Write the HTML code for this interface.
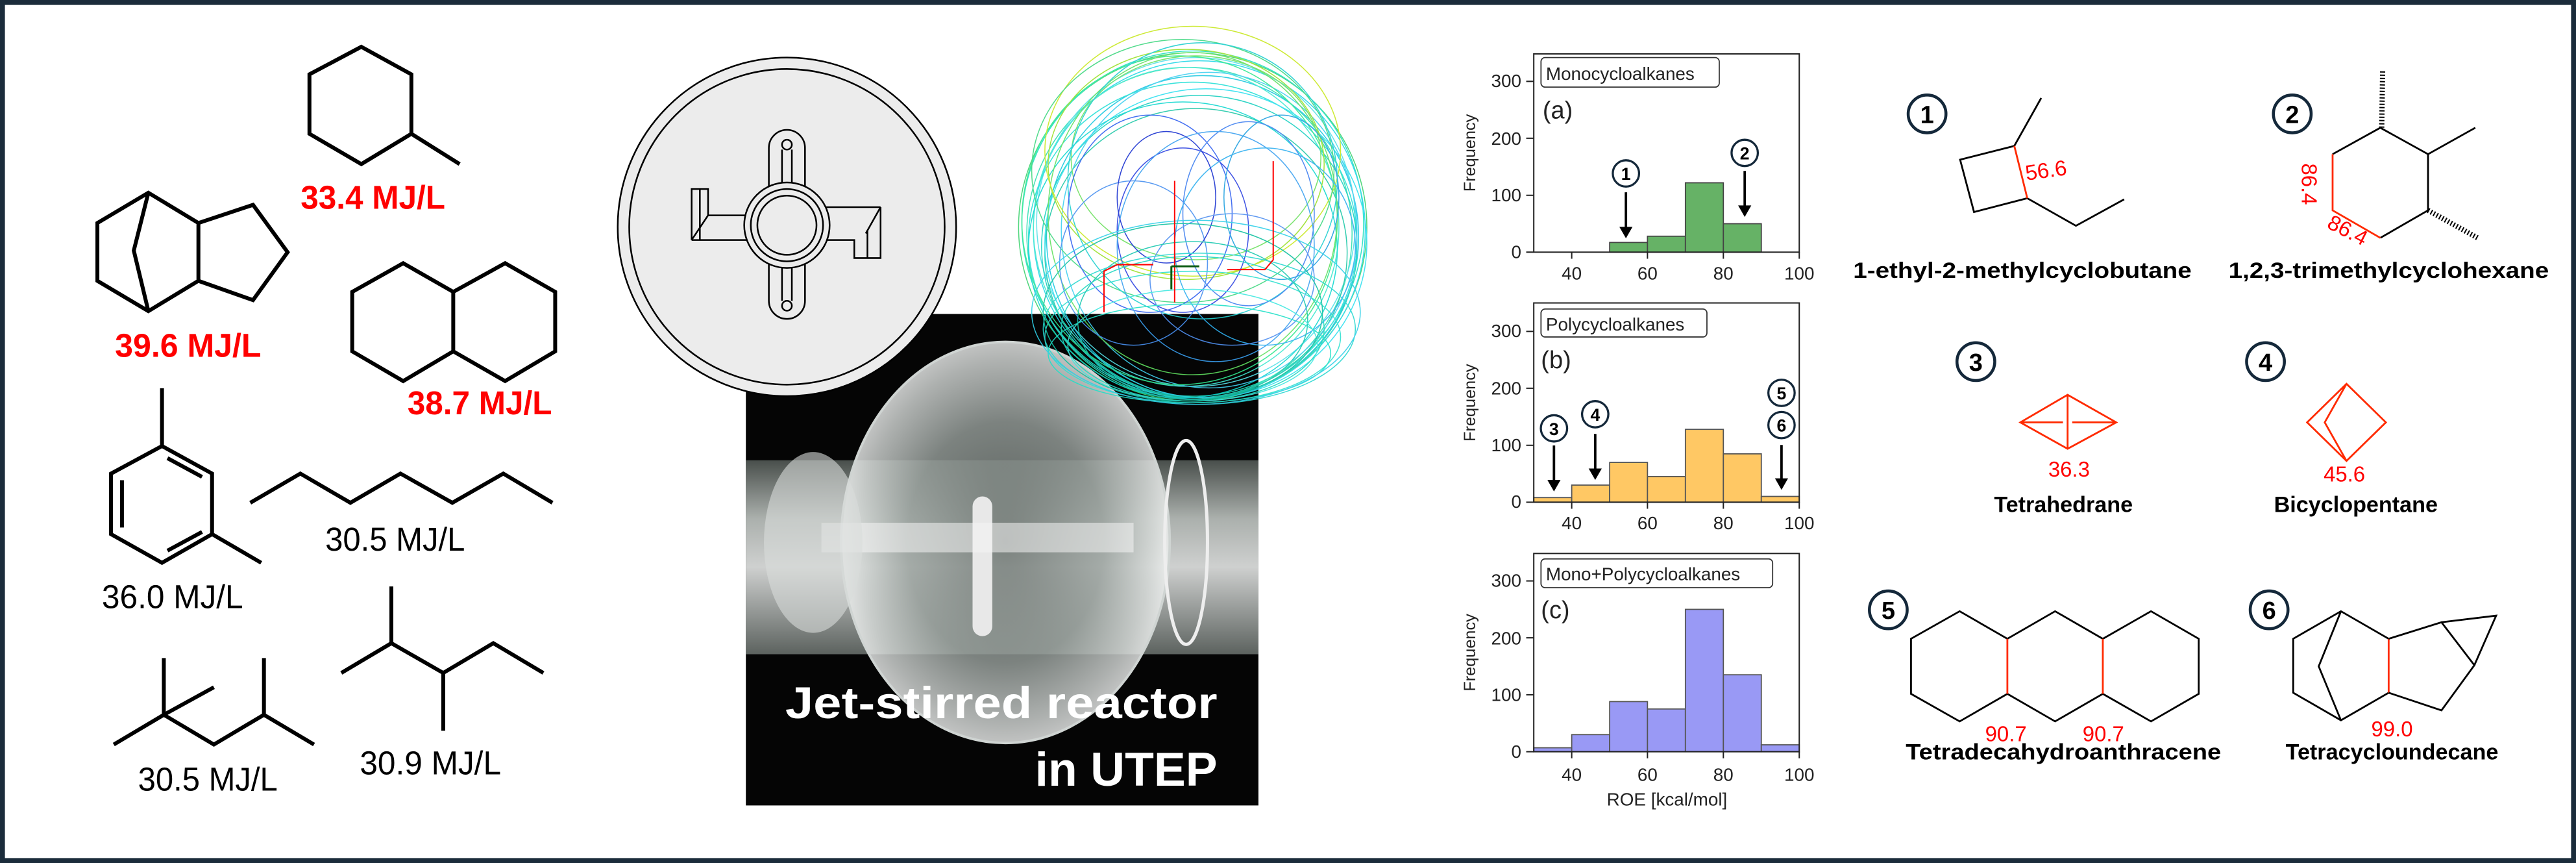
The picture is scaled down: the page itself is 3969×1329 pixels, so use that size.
<!DOCTYPE html>
<html><head><meta charset="utf-8"><style>
html,body{margin:0;padding:0;background:#fff}
svg{display:block}
text{font-family:"Liberation Sans",sans-serif}
</style></head><body>
<svg width="3969" height="1329" viewBox="0 0 1568 525" preserveAspectRatio="none" xmlns="http://www.w3.org/2000/svg">
<defs>
<radialGradient id="bulb" cx="0.5" cy="0.5" r="0.5">
<stop offset="0" stop-color="#6a726e"/><stop offset="0.6" stop-color="#9aa29e"/><stop offset="0.9" stop-color="#d8dcda"/><stop offset="1" stop-color="#f0f2f1"/>
</radialGradient>
<linearGradient id="tube" x1="0" y1="0" x2="0" y2="1">
<stop offset="0" stop-color="#555c58"/><stop offset="0.3" stop-color="#c8ceca"/><stop offset="0.55" stop-color="#f2f4f3"/><stop offset="1" stop-color="#6c736f"/>
</linearGradient>
</defs>
<rect x="0" y="0" width="1568" height="525" fill="#fff"/>
<rect x="1.5" y="1.5" width="1565" height="522" fill="none" stroke="#1b2c3b" stroke-width="3"/>

<!-- LEFT MOLECULES -->
<g transform="scale(0.554,0.335)" fill="none" stroke="#000" stroke-width="6">
<polygon vector-effect="non-scaling-stroke" points="397,85 452,135 452,243 397,298 340,243 340,135"/>
<line vector-effect="non-scaling-stroke" x1="452" y1="243" x2="505" y2="298"/>
<polygon vector-effect="non-scaling-stroke" points="163,350 107,405 107,510 163,565 218,510 218,405"/>
<polyline vector-effect="non-scaling-stroke" points="163,350 147,455 163,565"/>
<polyline vector-effect="non-scaling-stroke" points="218,405 278,372 316,458 278,545 218,510"/>
<polygon vector-effect="non-scaling-stroke" points="443,478 498,530 555,478 610,530 610,638 555,692 498,638 443,692 387,638 387,530"/>
<line vector-effect="non-scaling-stroke" x1="498" y1="530" x2="498" y2="638"/>
<line vector-effect="non-scaling-stroke" x1="178" y1="705" x2="178" y2="810"/>
<polygon vector-effect="non-scaling-stroke" points="178,810 233,860 233,970 178,1022 122,970 122,860"/>
<line vector-effect="non-scaling-stroke" x1="233" y1="970" x2="287" y2="1022"/>
<line vector-effect="non-scaling-stroke" x1="134" y1="872" x2="134" y2="958"/>
<line vector-effect="non-scaling-stroke" x1="184" y1="832" x2="222" y2="866"/>
<line vector-effect="non-scaling-stroke" x1="184" y1="1000" x2="222" y2="966"/>
<polyline vector-effect="non-scaling-stroke" points="275,913 330,860 385,913 440,860 497,913 553,860 607,913"/>
<polyline vector-effect="non-scaling-stroke" points="125,1352 180,1298 235,1352 290,1298 345,1352"/>
<line vector-effect="non-scaling-stroke" x1="180" y1="1298" x2="180" y2="1195"/>
<line vector-effect="non-scaling-stroke" x1="180" y1="1298" x2="235" y2="1248"/>
<line vector-effect="non-scaling-stroke" x1="290" y1="1298" x2="290" y2="1195"/>
<line vector-effect="non-scaling-stroke" x1="430" y1="1065" x2="430" y2="1168"/>
<polyline vector-effect="non-scaling-stroke" points="375,1222 430,1168 487,1222 542,1168 597,1222"/>
<line vector-effect="non-scaling-stroke" x1="487" y1="1222" x2="487" y2="1327"/>
</g>
<g font-size="20">
<text x="183" y="127" font-weight="bold" fill="#f00" textLength="88" lengthAdjust="spacingAndGlyphs">33.4 MJ/L</text>
<text x="70" y="217" font-weight="bold" fill="#f00" textLength="89" lengthAdjust="spacingAndGlyphs">39.6 MJ/L</text>
<text x="248" y="252" font-weight="bold" fill="#f00" textLength="88" lengthAdjust="spacingAndGlyphs">38.7 MJ/L</text>
<text x="62" y="370" fill="#000" textLength="86" lengthAdjust="spacingAndGlyphs">36.0 MJ/L</text>
<text x="198" y="335" fill="#000" textLength="85" lengthAdjust="spacingAndGlyphs">30.5 MJ/L</text>
<text x="84" y="481" fill="#000" textLength="85" lengthAdjust="spacingAndGlyphs">30.5 MJ/L</text>
<text x="219" y="471" fill="#000" textLength="86" lengthAdjust="spacingAndGlyphs">30.9 MJ/L</text>
</g>

<!-- PHOTO -->
<rect x="454" y="191" width="312" height="299" fill="#050505"/>
<rect x="454" y="280" width="312" height="118" fill="url(#tube)" opacity="0.85"/>
<ellipse cx="612" cy="330" rx="100" ry="122" fill="url(#bulb)" opacity="0.8"/>
<ellipse cx="612" cy="330" rx="100" ry="122" fill="none" stroke="#cfd4d2" stroke-width="1.5"/>
<ellipse cx="722" cy="330" rx="13" ry="62" fill="none" stroke="#eee" stroke-width="2"/>
<rect x="592" y="302" width="12" height="85" rx="6" fill="#e8e8e8"/>
<rect x="500" y="318" width="190" height="18" fill="#f4f4f4" opacity="0.55"/>
<ellipse cx="495" cy="330" rx="30" ry="55" fill="#d8dcda" opacity="0.6"/>
<text x="741" y="437" font-size="27" font-weight="bold" fill="#fff" text-anchor="end" textLength="263" lengthAdjust="spacingAndGlyphs">Jet-stirred reactor</text>
<text x="741" y="478" font-size="29" font-weight="bold" fill="#fff" text-anchor="end" textLength="111" lengthAdjust="spacingAndGlyphs">in UTEP</text>

<!-- DISK -->
<circle cx="479" cy="138" r="103" fill="#ececec" stroke="#000" stroke-width="1"/>
<circle cx="479" cy="138" r="96" fill="none" stroke="#000" stroke-width="1"/>
<g fill="none" stroke="#000" stroke-width="1">
<rect x="468" y="79" width="22" height="115" rx="11"/>
<circle cx="479" cy="88" r="3"/><circle cx="479" cy="186" r="3"/>
<line x1="476" y1="91" x2="476" y2="118"/><line x1="482" y1="91" x2="482" y2="118"/>
<line x1="476" y1="158" x2="476" y2="183"/><line x1="482" y1="158" x2="482" y2="183"/>
<polyline points="421,146 421,115 431,115 431,131 460,131" />
<polyline points="421,146 460,146"/><line x1="421" y1="146" x2="431" y2="131"/>
<line x1="426" y1="115" x2="426" y2="146"/>
<polyline points="536,126 536,157 520,157 520,146 501,146"/>
<polyline points="536,126 501,126"/><line x1="536" y1="126" x2="527" y2="142"/>
<line x1="528" y1="140" x2="528" y2="157"/>
<circle cx="479" cy="137" r="26" fill="#ececec"/>
<circle cx="479" cy="137" r="22"/>
<circle cx="479" cy="137" r="18"/>
</g>

<!-- STREAMLINES -->
<g fill="none" stroke-width="0.6" opacity="0.9">
<ellipse cx="726" cy="138" rx="106" ry="106" stroke="#3cd26e"/>
<ellipse cx="726" cy="136" rx="104" ry="105" stroke="#1fe0c0"/>
<ellipse cx="730" cy="140" rx="101" ry="103" stroke="#22d8e8"/>
<ellipse cx="724" cy="142" rx="99" ry="101" stroke="#2fe0b0"/>
<ellipse cx="728" cy="135" rx="97" ry="100" stroke="#55e0e8"/>
<ellipse cx="732" cy="144" rx="95" ry="98" stroke="#1ac8e0"/>
<ellipse cx="722" cy="138" rx="93" ry="97" stroke="#40e8d0"/>
<ellipse cx="726" cy="146" rx="100" ry="96" stroke="#28e0d8"/>
<ellipse cx="730" cy="150" rx="96" ry="92" stroke="#18d0c0"/>
<ellipse cx="728" cy="154" rx="92" ry="88" stroke="#20c8a8"/>
<ellipse cx="734" cy="148" rx="98" ry="94" stroke="#30e0f0"/>
<ellipse cx="720" cy="152" rx="94" ry="90" stroke="#10d8d0"/>
<ellipse cx="736" cy="140" rx="90" ry="96" stroke="#40d0f0"/>
<ellipse cx="718" cy="134" rx="96" ry="100" stroke="#30e890"/>
<ellipse cx="726" cy="130" rx="88" ry="98" stroke="#60e060"/>
<ellipse cx="722" cy="100" rx="84" ry="70" stroke="#9be02a"/>
<ellipse cx="726" cy="92" rx="90" ry="76" stroke="#c8e820"/>
<ellipse cx="728" cy="96" rx="76" ry="62" stroke="#6de060"/>
<ellipse cx="720" cy="104" rx="92" ry="80" stroke="#40d880"/>
<ellipse cx="732" cy="110" rx="82" ry="84" stroke="#20d0d0"/>
<ellipse cx="700" cy="130" rx="50" ry="60" stroke="#3060f0"/>
<ellipse cx="720" cy="140" rx="40" ry="50" stroke="#2a40e0"/>
<ellipse cx="760" cy="130" rx="40" ry="56" stroke="#4080f0"/>
<ellipse cx="740" cy="150" rx="60" ry="70" stroke="#3aa0f0"/>
<ellipse cx="770" cy="150" rx="55" ry="60" stroke="#30b0f0"/>
<ellipse cx="690" cy="160" rx="45" ry="50" stroke="#4890f0"/>
<ellipse cx="710" cy="120" rx="30" ry="40" stroke="#1830d0"/>
<ellipse cx="750" cy="170" rx="50" ry="40" stroke="#5090f0"/>
<ellipse cx="780" cy="120" rx="35" ry="50" stroke="#20a0e0"/>
<ellipse cx="726" cy="200" rx="80" ry="44" stroke="#20d8c0"/>
<ellipse cx="726" cy="205" rx="90" ry="40" stroke="#30e0d0"/>
<ellipse cx="726" cy="195" rx="70" ry="48" stroke="#18c8b0"/>
<ellipse cx="726" cy="210" rx="76" ry="34" stroke="#40e8e0"/>
<ellipse cx="720" cy="190" rx="85" ry="54" stroke="#10c0a0"/>
<ellipse cx="730" cy="200" rx="95" ry="46" stroke="#28d8d0"/>
<ellipse cx="724" cy="215" rx="86" ry="30" stroke="#20e0c8"/>
<ellipse cx="728" cy="190" rx="100" ry="56" stroke="#30d0e8"/>
</g>
<g stroke="#f00" stroke-width="0.8" fill="none">
<polyline points="672,190 672,165 680,161 702,161"/>
<polyline points="747,164 770,164 775,158 775,98"/>
<line x1="715" y1="110" x2="715" y2="184"/>
</g>
<g stroke="#0a5a10" stroke-width="1.2"><line x1="713" y1="162" x2="730" y2="162"/><line x1="713" y1="162" x2="713" y2="176"/></g>

<!-- HISTOGRAMS -->
<g font-size="11" fill="#222">
<g stroke="#444" stroke-width="0.7" fill="#66b266">
<rect x="979.8" y="147.5" width="23" height="5.9"/>
<rect x="1002.8" y="143.7" width="23.1" height="9.7"/>
<rect x="1025.9" y="111.2" width="23.1" height="42.2"/>
<rect x="1049" y="136.1" width="23.1" height="17.3"/>
</g>
<g stroke="#555" stroke-width="0.7" fill="#ffc864">
<rect x="933.6" y="302.7" width="23.1" height="2.8"/>
<rect x="956.7" y="295.1" width="23.1" height="10.4"/>
<rect x="979.8" y="281.3" width="23" height="24.2"/>
<rect x="1002.8" y="289.9" width="23.1" height="15.6"/>
<rect x="1025.9" y="261.2" width="23.1" height="44.3"/>
<rect x="1049" y="276.1" width="23.1" height="29.4"/>
<rect x="1072.1" y="302" width="23.1" height="3.5"/>
</g>
<g stroke="#555" stroke-width="0.7" fill="#9999f5">
<rect x="933.6" y="454.9" width="23.1" height="2.4"/>
<rect x="956.7" y="446.9" width="23.1" height="10.4"/>
<rect x="979.8" y="426.8" width="23" height="30.5"/>
<rect x="1002.8" y="431.3" width="23.1" height="26"/>
<rect x="1025.9" y="370.7" width="23.1" height="86.6"/>
<rect x="1049" y="410.5" width="23.1" height="46.8"/>
<rect x="1072.1" y="453.1" width="23.1" height="4.2"/>
</g>
<g fill="none" stroke="#222" stroke-width="0.8">
<rect x="933.6" y="32.8" width="161.6" height="120.6"/>
<rect x="933.6" y="184.3" width="161.6" height="121.2"/>
<rect x="933.6" y="336.7" width="161.6" height="120.6"/>
<path d="M929,153.4h4.6M929,118.8h4.6M929,84.1h4.6M929,49.5h4.6 M929,305.5h4.6M929,270.9h4.6M929,236.2h4.6M929,201.6h4.6 M929,457.3h4.6M929,422.7h4.6M929,388h4.6M929,353.4h4.6"/>
<path d="M956.7,153.4v4M1002.8,153.4v4M1049,153.4v4M1095.2,153.4v4 M956.7,305.5v4M1002.8,305.5v4M1049,305.5v4M1095.2,305.5v4 M956.7,457.3v4M1002.8,457.3v4M1049,457.3v4M1095.2,457.3v4"/>
</g>
<g text-anchor="end">
<text x="926" y="157">0</text><text x="926" y="122.5">100</text><text x="926" y="88">200</text><text x="926" y="53">300</text>
<text x="926" y="309">0</text><text x="926" y="274.5">100</text><text x="926" y="240">200</text><text x="926" y="205">300</text>
<text x="926" y="461">0</text><text x="926" y="426.5">100</text><text x="926" y="392">200</text><text x="926" y="357">300</text>
</g>
<g text-anchor="middle">
<text x="956.7" y="170">40</text><text x="1002.8" y="170">60</text><text x="1049" y="170">80</text><text x="1095.2" y="170">100</text>
<text x="956.7" y="322">40</text><text x="1002.8" y="322">60</text><text x="1049" y="322">80</text><text x="1095.2" y="322">100</text>
<text x="956.7" y="475">40</text><text x="1002.8" y="475">60</text><text x="1049" y="475">80</text><text x="1095.2" y="475">100</text>
<text x="1014.7" y="490">ROE [kcal/mol]</text>
<text transform="translate(898,93) rotate(-90)" font-size="10">Frequency</text>
<text transform="translate(898,245) rotate(-90)" font-size="10">Frequency</text>
<text transform="translate(898,397) rotate(-90)" font-size="10">Frequency</text>
</g>
<g fill="#fff" stroke="#333" stroke-width="0.7">
<rect x="938" y="35" width="108.5" height="18" rx="2.5"/>
<rect x="938" y="188" width="101" height="17" rx="2.5"/>
<rect x="938" y="340" width="141" height="17.5" rx="2.5"/>
</g>
<text x="941" y="48.5" font-size="11">Monocycloalkanes</text>
<text x="941" y="201" font-size="11">Polycycloalkanes</text>
<text x="941" y="353" font-size="11">Mono+Polycycloalkanes</text>
<text x="939" y="72" font-size="15">(a)</text>
<text x="938" y="224" font-size="15">(b)</text>
<text x="938" y="376" font-size="15">(c)</text>
<g fill="#fff" stroke="#14283a" stroke-width="1.3">
<circle cx="989.7" cy="105.5" r="8"/><circle cx="1062" cy="93" r="8"/>
<circle cx="945.9" cy="260.6" r="8"/><circle cx="971" cy="252" r="8"/>
<circle cx="1084.4" cy="239" r="8"/><circle cx="1084.4" cy="258.6" r="8"/>
</g>
<g font-size="10.5" font-weight="bold" text-anchor="middle" fill="#000">
<text x="989.7" y="109.5">1</text><text x="1062" y="97">2</text>
<text x="945.9" y="264.6">3</text><text x="971" y="256">4</text>
<text x="1084.4" y="243">5</text><text x="1084.4" y="262.6">6</text>
</g>
<g stroke="#000" stroke-width="1.5">
<line x1="989.7" y1="117" x2="989.7" y2="139"/><line x1="1062" y1="104" x2="1062" y2="126"/>
<line x1="945.9" y1="271" x2="945.9" y2="293"/><line x1="971" y1="264" x2="971" y2="286"/>
<line x1="1084.4" y1="270.7" x2="1084.4" y2="292"/>
</g>
<g fill="#000">
<polygon points="985.7,138 993.7,138 989.7,145"/><polygon points="1058,125 1066,125 1062,132"/>
<polygon points="941.9,292 949.9,292 945.9,299"/><polygon points="967,285 975,285 971,292"/>
<polygon points="1080.4,291 1088.4,291 1084.4,298"/>
</g>
</g>

<!-- RIGHT MOLECULES -->
<g transform="translate(1126,0) scale(0.282,0.335)" fill="none" stroke="#000" stroke-width="2.8">
<polyline vector-effect="non-scaling-stroke" points="355,265 238,290 268,385 383,360"/>
<line vector-effect="non-scaling-stroke" x1="355" y1="265" x2="413" y2="178"/>
<polyline vector-effect="non-scaling-stroke" points="383,360 488,410 592,362"/>
<line vector-effect="non-scaling-stroke" x1="355" y1="265" x2="383" y2="360" stroke="#ff2a00"/>
<polyline vector-effect="non-scaling-stroke" points="1042,280 1145,232 1248,280 1248,382 1145,432"/>
<polyline vector-effect="non-scaling-stroke" points="1042,280 1042,382 1145,432" stroke="#ff2a00"/>
<line vector-effect="non-scaling-stroke" x1="1248" y1="280" x2="1350" y2="232"/>
<line vector-effect="non-scaling-stroke" x1="1148" y1="232" x2="1150" y2="128" stroke-width="8" stroke-dasharray="2 3"/>
<line vector-effect="non-scaling-stroke" x1="1248" y1="382" x2="1355" y2="432" stroke-width="8" stroke-dasharray="2 3"/>
<g stroke="#ff2a00">
<polygon vector-effect="non-scaling-stroke" points="368,767 470,717 575,767 470,815"/>
<line vector-effect="non-scaling-stroke" x1="470" y1="717" x2="470" y2="815"/>
<line vector-effect="non-scaling-stroke" x1="368" y1="767" x2="460" y2="767"/>
<line vector-effect="non-scaling-stroke" x1="480" y1="767" x2="575" y2="767"/>
<polygon vector-effect="non-scaling-stroke" points="987,767 1072,697 1157,767 1072,837"/>
<polyline vector-effect="non-scaling-stroke" points="1072,697 1025,767 1072,837"/>
</g>
<polyline vector-effect="non-scaling-stroke" points="340,1160 237,1110 132,1160 132,1260 237,1310 340,1260 443,1310 546,1260 650,1310 753,1260 753,1160 650,1110 546,1160 443,1110 340,1160"/>
<line vector-effect="non-scaling-stroke" x1="340" y1="1160" x2="340" y2="1260" stroke="#ff2a00"/>
<line vector-effect="non-scaling-stroke" x1="546" y1="1160" x2="546" y2="1260" stroke="#ff2a00"/>
<polyline vector-effect="non-scaling-stroke" points="1163,1160 1060,1110 957,1160 957,1258 1060,1308 1163,1258"/>
<polyline vector-effect="non-scaling-stroke" points="1060,1110 1012,1210 1060,1308"/>
<line vector-effect="non-scaling-stroke" x1="1163" y1="1160" x2="1163" y2="1258" stroke="#ff2a00"/>
<polyline vector-effect="non-scaling-stroke" points="1163,1160 1277,1130 1348,1208 1277,1290 1163,1258"/>
<polyline vector-effect="non-scaling-stroke" points="1277,1130 1395,1118 1348,1208"/>
</g>
<g fill="#fff" stroke="#14283a" stroke-width="1.8">
<circle cx="1173" cy="69.3" r="11.5"/><circle cx="1395.3" cy="69.3" r="11.5"/>
<circle cx="1202.7" cy="220" r="11.5"/><circle cx="1379" cy="220" r="11.5"/>
<circle cx="1149.4" cy="371" r="11.5"/><circle cx="1381.2" cy="371" r="11.5"/>
</g>
<g font-size="15" font-weight="bold" text-anchor="middle" fill="#000">
<text x="1173" y="74.8">1</text><text x="1395.3" y="74.8">2</text>
<text x="1202.7" y="225.5">3</text><text x="1379" y="225.5">4</text>
<text x="1149.4" y="376.5">5</text><text x="1381.2" y="376.5">6</text>
</g>
<g font-size="13.5" font-weight="bold" text-anchor="middle" fill="#000">
<text x="1231" y="169" textLength="206" lengthAdjust="spacingAndGlyphs">1-ethyl-2-methylcyclobutane</text>
<text x="1454" y="169" textLength="195" lengthAdjust="spacingAndGlyphs">1,2,3-trimethylcyclohexane</text>
<text x="1256" y="311.5">Tetrahedrane</text>
<text x="1434" y="311.5">Bicyclopentane</text>
<text x="1256" y="462" textLength="192" lengthAdjust="spacingAndGlyphs">Tetradecahydroanthracene</text>
<text x="1456" y="462">Tetracycloundecane</text>
</g>
<g font-size="13" fill="#f00" text-anchor="middle">
<text transform="translate(1246,108) rotate(-8)">56.6</text>
<text transform="translate(1401,112) rotate(90)">86.4</text>
<text transform="translate(1427,144) rotate(27)">86.4</text>
<text x="1259.4" y="290">36.3</text>
<text x="1427" y="293">45.6</text>
<text x="1221" y="451">90.7</text>
<text x="1280.3" y="451">90.7</text>
<text x="1456" y="448">99.0</text>
</g>
</svg>
</body></html>
